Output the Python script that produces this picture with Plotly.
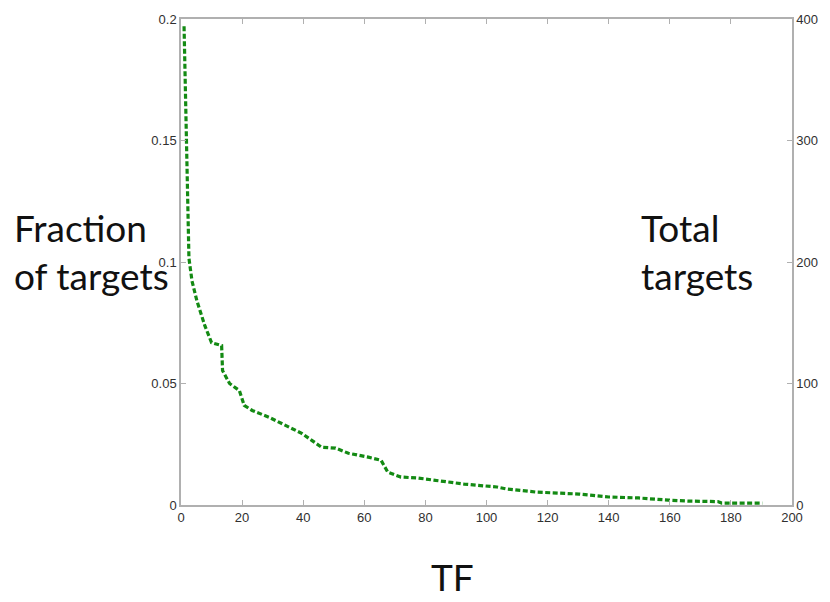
import plotly.graph_objects as go

# Per-TF fraction of targets (sorted, descending), sampled at its breakpoints
tf = [1, 2.6, 3.6, 5.2, 7.8, 10.0, 13.3, 13.6, 15.9, 19.1, 20.7, 23.3, 28.8, 32.1,
      35.3, 39.5, 42.8, 46.0, 50.6, 54.8, 61.3, 65.5, 67.7, 72.0, 77.5, 85.0,
      92.7, 103.4, 106.6, 116.4, 130.3, 140.0, 149.8, 159.5, 166.0, 175.7, 177.0, 190.3]
fraction = [0.197, 0.1016, 0.0922, 0.0840, 0.0738, 0.0668, 0.0656, 0.0553, 0.0500,
            0.0471, 0.0410, 0.0389, 0.0361, 0.0340, 0.0320, 0.0295, 0.0266, 0.0238,
            0.0234, 0.0213, 0.0197, 0.0184, 0.0135, 0.0115, 0.0111, 0.0098, 0.0086,
            0.0074, 0.0066, 0.0053, 0.0045, 0.0033, 0.0029, 0.0020, 0.0016, 0.0014,
            0.0008, 0.0008]
total_per_fraction = 2000  # 0.2 fraction <-> 400 targets
total_targets = [f * total_per_fraction for f in fraction]

x_ticks = [0, 20, 40, 60, 80, 100, 120, 140, 160, 180, 200]
y_ticks = [0, 0.05, 0.1, 0.15, 0.2]
y_tick_text = ["0", "0.05", "0.1", "0.15", "0.2"]
y2_ticks = [0, 100, 200, 300, 400]

GREEN = "#138a13"
AXIS = "#b0b0b0"
TICKFONT = dict(family="Liberation Sans, Arial", size=13, color="#303030")
LABELFONT = dict(family="Lato, Open Sans, sans-serif", size=37, color="#111111")

fig = go.Figure()
fig.add_trace(go.Scatter(
    x=tf, y=fraction, mode="lines",
    line=dict(color=GREEN, width=3.2, dash="5px,2.5px"),
    hoverinfo="skip", showlegend=False,
))
fig.add_trace(go.Scatter(
    x=tf, y=total_targets, mode="lines", yaxis="y2",
    line=dict(color="rgba(0,0,0,0)", width=0),
    hoverinfo="skip", showlegend=False,
))

axis_common = dict(showgrid=False, zeroline=False, showline=True, linecolor=AXIS,
                   linewidth=1.5, ticks="inside", ticklen=5, tickcolor=AXIS,
                   tickwidth=1, tickfont=TICKFONT)

fig.update_layout(
    width=830, height=602,
    margin=dict(l=181, r=32, t=17, b=97),
    paper_bgcolor="white", plot_bgcolor="white",
    xaxis=dict(range=[0, 200], tickvals=x_ticks, mirror="ticks", **axis_common),
    yaxis=dict(range=[0, 0.2], tickvals=y_ticks, ticktext=y_tick_text, **axis_common),
    yaxis2=dict(range=[0, 400], tickvals=y2_ticks, overlaying="y", side="right",
                **axis_common),
    annotations=[
        dict(text="Fraction<br>of targets", xref="paper", yref="paper",
             x=-0.276, y=0.521, xanchor="left", yanchor="middle", align="left",
             showarrow=False, font=LABELFONT),
        dict(text="Total<br>targets", xref="paper", yref="paper",
             x=0.75, y=0.521, xanchor="left", yanchor="middle", align="left",
             showarrow=False, font=LABELFONT),
        dict(text="TF", xref="paper", yref="paper",
             x=0.445, y=-0.148, xanchor="center", yanchor="middle",
             showarrow=False, font=LABELFONT),
    ],
)

fig.write_html("out.html")
